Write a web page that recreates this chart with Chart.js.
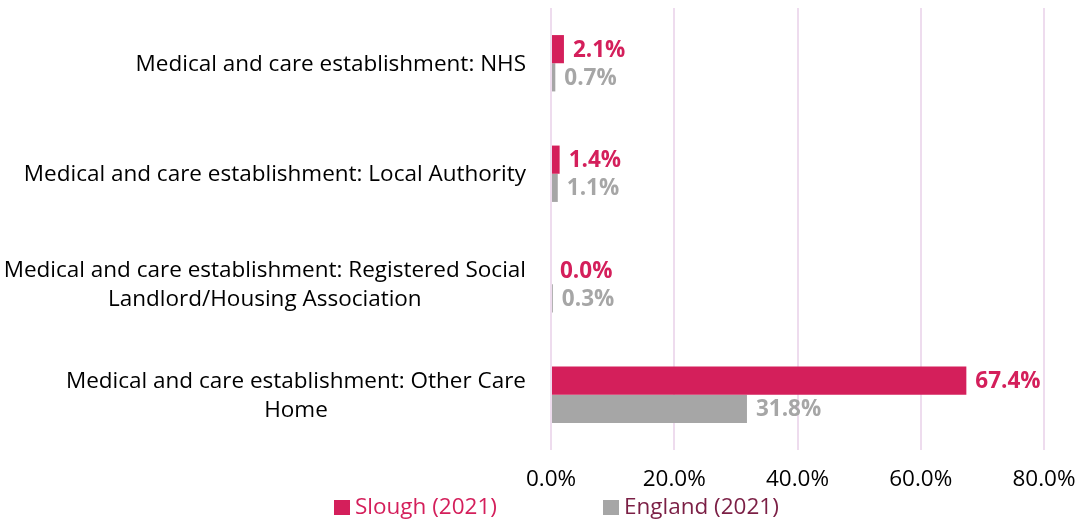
<!DOCTYPE html>
<html>
<head>
<meta charset="utf-8">
<script src="https://cdn.jsdelivr.net/npm/chart.js@4/dist/chart.umd.min.js"></script>
<style>
html,body{margin:0;padding:0;background:#fff;}
#wrap{position:relative;width:1081px;height:521px;}
</style>
</head>
<body>
<div id="wrap"><canvas id="c" width="1081" height="521"></canvas></div>
<script>
const categories = [
  ["Medical and care establishment: NHS"],
  ["Medical and care establishment: Local Authority"],
  ["Medical and care establishment: Registered Social", "Landlord/Housing Association"],
  ["Medical and care establishment: Other Care", "Home"]
];
const seriesNames = ["Slough (2021)", "England (2021)"];
const slough = [2.1, 1.4, 0.0, 67.4];
const england = [0.7, 1.1, 0.3, 31.8];
const xTicks = [0, 20, 40, 60, 80];

const PINK = "#D41F5B";
const GREY = "#A6A6A6";
const MAROON = "#7B1F45";
const FONT = "'Open Sans', 'Noto Sans', sans-serif";

const labelPlugin = {
  id: "customLabels",
  afterDatasetsDraw(chart) {
    const ctx = chart.ctx;
    ctx.save();
    ctx.font = "bold 22.5px " + FONT;
    ctx.textBaseline = "middle";
    ctx.textAlign = "left";
    chart.data.datasets.forEach((ds, di) => {
      const meta = chart.getDatasetMeta(di);
      meta.data.forEach((bar, i) => {
        ctx.fillStyle = di === 0 ? PINK : GREY;
        ctx.fillText(ds.data[i].toFixed(1) + "%", bar.x + 9, bar.y + 1);
      });
    });
    // category labels
    const ys = chart.scales.y;
    ctx.font = "22.5px " + FONT;
    ctx.fillStyle = "#000";
    ctx.textAlign = "center";
    const right = 526;
    categories.forEach((lines, i) => {
      const cy = ys.getPixelForValue(i);
      const w = Math.max(...lines.map(l => ctx.measureText(l).width));
      const cx = right - w / 2;
      const lh = 29;
      const y0 = cy - (lines.length - 1) * lh / 2 + 1;
      lines.forEach((l, k) => ctx.fillText(l, cx, y0 + k * lh));
    });
    // legend
    ctx.font = "22.5px " + FONT;
    ctx.textAlign = "left";
    const items = [
      {x: 334, box: PINK, text: seriesNames[0], color: PINK},
      {x: 603, box: GREY, text: seriesNames[1], color: MAROON}
    ];
    const ly = 508;
    items.forEach(it => {
      ctx.fillStyle = it.box;
      ctx.fillRect(it.x, ly - 8, 16, 15);
      ctx.fillStyle = it.color;
      ctx.fillText(it.text, it.x + 21, ly);
    });
    ctx.restore();
  }
};

new Chart(document.getElementById("c"), {
  type: "bar",
  data: {
    labels: categories.map(c => c.join(" ")),
    datasets: [
      {label: seriesNames[0], data: slough, backgroundColor: PINK, barPercentage: 1, categoryPercentage: 0.51},
      {label: seriesNames[1], data: england, backgroundColor: GREY, barPercentage: 1, categoryPercentage: 0.51}
    ]
  },
  options: {
    indexAxis: "y",
    responsive: false,
    animation: false,
    layout: {padding: {left: 551, right: 37, top: 8, bottom: 28}},
    plugins: {legend: {display: false}, tooltip: {enabled: false}},
    scales: {
      y: {
        display: false
      },
      x: {
        min: 0, max: 80,
        afterBuildTicks(scale) { scale.ticks = xTicks.map(v => ({value: v})); },
        afterFit(scale) { scale.paddingLeft = 0; scale.paddingRight = 0; scale.height = 43; },
        ticks: {
          callback: v => Number(v).toFixed(1) + "%",
          color: "#000",
          font: {family: FONT, size: 22.5},
          padding: 16
        },
        grid: {color: "#EEDCEE", lineWidth: 2, drawTicks: false},
        border: {display: false}
      }
    }
  },
  plugins: [labelPlugin]
});
</script>
</body>
</html>
